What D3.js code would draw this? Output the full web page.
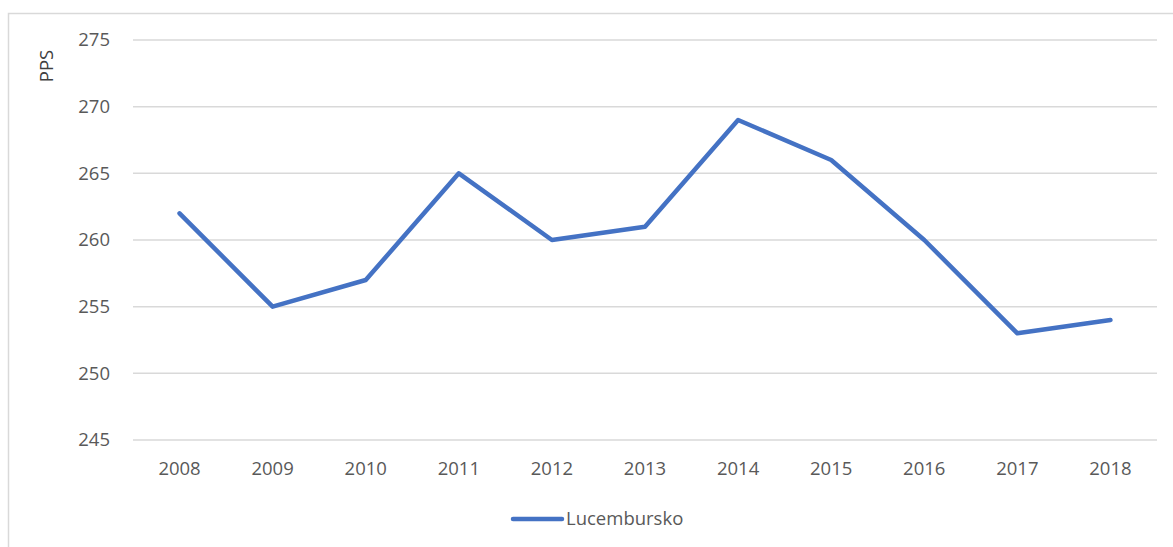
<!DOCTYPE html>
<html>
<head>
<meta charset="utf-8">
<script src="https://cdn.jsdelivr.net/npm/d3@7"></script>
<style>
  body { margin: 0; background: #fff; }
  svg { display: block; font-family: "Open Sans", "Noto Sans", sans-serif; }
</style>
</head>
<body>
<div id="chart"></div>
<script>
const years = ["2008", "2009", "2010", "2011", "2012", "2013", "2014", "2015", "2016", "2017", "2018"];
const values = [262, 255, 257, 265, 260, 261, 269, 266, 260, 253, 254];
const yTicks = [245, 250, 255, 260, 265, 270, 275];
const seriesName = "Lucembursko";

const width = 1173, height = 547;
const plot = { left: 133, right: 1157, top: 40, bottom: 440 };
const fontSize = 18.5;

const svg = d3.select("#chart")
    .append("svg")
    .attr("width", width)
    .attr("height", height);

// Outer chart border (clipped at right and bottom in the original)
svg.append("path")
    .attr("d", `M8.5,${height} V13.5 H${width}`)
    .attr("fill", "none")
    .attr("stroke", "#d9d9d9")
    .attr("stroke-width", 1.5);

const x = d3.scaleBand()
    .domain(years)
    .range([plot.left, plot.right]);

const y = d3.scaleLinear()
    .domain([245, 275])
    .range([plot.bottom, plot.top]);

// Grid
svg.append("g")
    .selectAll("line")
    .data(yTicks)
    .join("line")
    .attr("x1", plot.left)
    .attr("x2", plot.right)
    .attr("y1", d => y(d))
    .attr("y2", d => y(d))
    .attr("stroke", "#d9d9d9")
    .attr("stroke-width", 1.5);

// Y labels
svg.append("g")
    .selectAll("text")
    .data(yTicks)
    .join("text")
    .attr("x", 110)
    .attr("y", d => y(d))
    .attr("dy", "0.35em")
    .attr("text-anchor", "end")
    .attr("fill", "#595959")
    .attr("font-size", fontSize)
    .text(d => d);

// X labels
svg.append("g")
    .selectAll("text")
    .data(years)
    .join("text")
    .attr("x", d => x(d) + x.bandwidth() / 2)
    .attr("y", 469)
    .attr("dy", "0.35em")
    .attr("text-anchor", "middle")
    .attr("fill", "#595959")
    .attr("font-size", fontSize)
    .text(d => d);

// Axis title
svg.append("text")
    .attr("transform", "translate(47,66) rotate(-90)")
    .attr("dy", "0.35em")
    .attr("text-anchor", "middle")
    .attr("fill", "#404040")
    .attr("font-size", fontSize)
    .text("PPS");

// Line
const line = d3.line()
    .x((d, i) => x(years[i]) + x.bandwidth() / 2)
    .y(d => y(d));

svg.append("path")
    .datum(values)
    .attr("d", line)
    .attr("fill", "none")
    .attr("stroke", "#4472c4")
    .attr("stroke-width", 4.5)
    .attr("stroke-linejoin", "round")
    .attr("stroke-linecap", "round");

// Legend
const legend = svg.append("g").attr("transform", "translate(513,519)");
legend.append("line")
    .attr("x1", 0).attr("x2", 49)
    .attr("stroke", "#4472c4")
    .attr("stroke-width", 4.5)
    .attr("stroke-linecap", "round");
legend.append("text")
    .attr("x", 53)
    .attr("dy", "0.35em")
    .attr("fill", "#595959")
    .attr("font-size", fontSize)
    .text(seriesName);
</script>
</body>
</html>
